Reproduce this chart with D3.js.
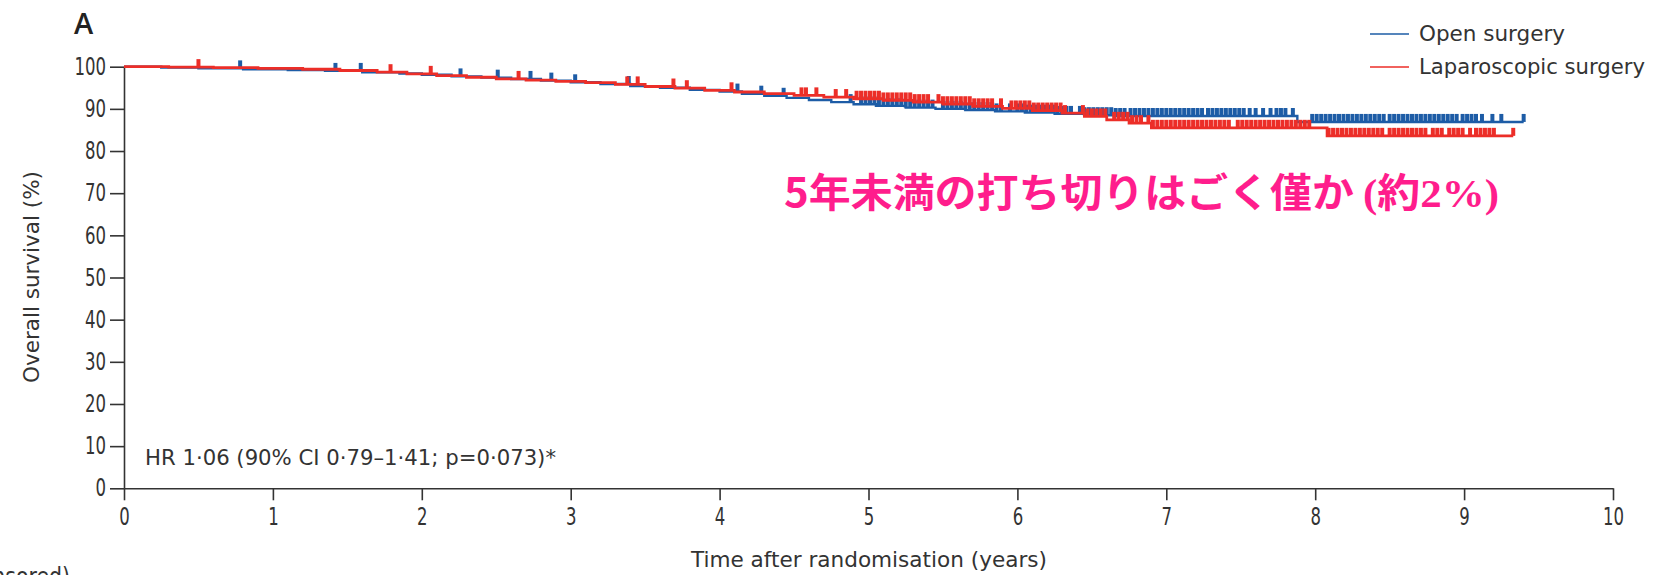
<!DOCTYPE html>
<html>
<head>
<meta charset="utf-8">
<script src="https://cdn.jsdelivr.net/npm/d3@7"></script>
<style>
  html, body { margin: 0; padding: 0; background: #fff; }
  svg { display: block; }
  .ax text { font-family: "Liberation Sans Narrow", "DejaVu Sans Condensed", "DejaVu Sans", sans-serif; fill: #333; }
</style>
</head>
<body>
<svg id="chart" width="1661" height="575"></svg>
<script>
// ---------------- DATA ----------------
const xTicks = [0, 1, 2, 3, 4, 5, 6, 7, 8, 9, 10];
const yTicks = [0, 10, 20, 30, 40, 50, 60, 70, 80, 90, 100];

const seriesNames = ["Open surgery", "Laparoscopic surgery"];

// Open surgery: step times (years) and overall survival (%)
const openTimes = [0, 0.25, 0.5, 0.8, 1.1, 1.35, 1.6, 1.85, 2.0, 2.2, 2.4, 2.6, 2.8, 3.0, 3.2, 3.4, 3.6, 3.8, 4.0, 4.15, 4.3, 4.45, 4.6, 4.75, 4.9, 5.05, 5.25, 5.45, 5.65, 5.85, 6.05, 6.25, 6.45, 6.65, 7.88];
const openSurv  = [100, 99.8, 99.6, 99.4, 99.2, 99.0, 98.7, 98.4, 98.1, 97.7, 97.4, 97.1, 96.7, 96.3, 95.9, 95.4, 95.0, 94.5, 94.1, 93.6, 93.1, 92.6, 92.1, 91.6, 91.1, 90.7, 90.3, 90.0, 89.7, 89.4, 89.1, 88.8, 88.5, 88.3, 86.9];
const openEnd = 9.40;
const openCensor = [0.78, 1.42, 1.59, 2.26, 2.51, 2.73, 2.87, 3.03, 3.39, 4.12, 4.28, 4.43, 4.88,
  4.95, 4.98, 5.01, 5.04, 5.07, 5.10, 5.13, 5.16, 5.19, 5.22, 5.25, 5.28, 5.31, 5.34, 5.37, 5.40, 5.43,
  5.50, 5.53, 5.56, 5.59, 5.62, 5.65, 5.68, 5.71, 5.74, 5.77, 5.80, 5.83, 5.86, 5.89, 5.95,
  6.00, 6.03, 6.06, 6.09, 6.12, 6.15, 6.18, 6.21, 6.24, 6.27, 6.30, 6.33, 6.36,
  6.42, 6.45, 6.48, 6.51, 6.54, 6.57, 6.60, 6.63, 6.66, 6.69, 6.72,
  6.76, 6.79, 6.82, 6.85, 6.88, 6.91, 6.94, 6.97, 7.00, 7.03, 7.06, 7.09, 7.12, 7.15, 7.18, 7.21, 7.24,
  7.28, 7.31, 7.34, 7.37, 7.40, 7.43, 7.46, 7.49, 7.52, 7.56, 7.60, 7.65, 7.70, 7.74, 7.77, 7.80, 7.85,
  7.98, 8.01, 8.04, 8.07, 8.10, 8.13, 8.16, 8.19, 8.22, 8.25, 8.28, 8.31, 8.34, 8.37, 8.40, 8.43, 8.46,
  8.50, 8.53, 8.56, 8.59, 8.62, 8.65, 8.68, 8.71, 8.74, 8.77, 8.80, 8.83, 8.86, 8.89, 8.92, 8.95,
  8.99, 9.02, 9.05, 9.08, 9.12, 9.19, 9.25, 9.40];

// Laparoscopic surgery
const lapTimes = [0, 0.3, 0.6, 0.9, 1.2, 1.45, 1.7, 1.9, 2.1, 2.3, 2.5, 2.7, 2.9, 3.1, 3.3, 3.5, 3.7, 3.9, 4.1, 4.3, 4.5, 4.7, 4.9, 5.1, 5.3, 5.5, 5.7, 5.9, 6.1, 6.3, 6.45, 6.6, 6.75, 6.9, 8.08];
const lapSurv  = [100, 99.9, 99.8, 99.6, 99.4, 99.1, 98.7, 98.3, 97.9, 97.5, 97.1, 96.8, 96.5, 96.2, 95.8, 95.3, 94.9, 94.4, 94.0, 93.6, 93.2, 92.8, 92.4, 92.0, 91.6, 91.1, 90.6, 90.1, 89.6, 89.0, 88.2, 87.4, 86.6, 85.5, 83.6];
const lapEnd = 9.33;
const lapCensor = [0.50, 1.79, 2.06, 2.65, 3.38, 3.45, 3.69, 3.78, 4.08, 4.55, 4.58, 4.65, 4.78, 4.85,
  4.92, 4.95, 4.98, 5.01, 5.04, 5.07, 5.10, 5.13, 5.16, 5.19, 5.22, 5.25, 5.28, 5.31, 5.34, 5.37, 5.40,
  5.47, 5.50, 5.53, 5.56, 5.59, 5.62, 5.65, 5.68, 5.71, 5.74, 5.77, 5.80, 5.83, 5.89,
  5.96, 5.99, 6.02, 6.05, 6.08, 6.11, 6.14, 6.17, 6.20, 6.23, 6.26, 6.29, 6.32,
  6.44, 6.47, 6.50, 6.53, 6.56, 6.59, 6.65, 6.68, 6.71, 6.74, 6.77, 6.80, 6.83,
  6.88, 6.91, 6.94, 6.97, 7.00, 7.03, 7.06, 7.09, 7.12, 7.15, 7.18, 7.21, 7.24, 7.27, 7.30, 7.33, 7.36, 7.39, 7.42,
  7.48, 7.51, 7.54, 7.57, 7.60, 7.63, 7.66, 7.69, 7.72, 7.75, 7.78, 7.81, 7.84, 7.87, 7.90, 7.93, 7.96,
  8.09, 8.12, 8.15, 8.18, 8.21, 8.24, 8.27, 8.30, 8.33, 8.36, 8.39, 8.42, 8.45,
  8.50, 8.53, 8.56, 8.59, 8.62, 8.65, 8.68, 8.71, 8.74, 8.79, 8.82, 8.85,
  8.90, 8.93, 8.96, 8.99, 9.04, 9.08, 9.11, 9.14, 9.17, 9.20, 9.33];

const panelLabel = "A";
const xTitle = "Time after randomisation (years)";
const yTitle = "Overall survival (%)";
const hrText = "HR 1·06 (90% CI 0·79–1·41; p=0·073)*";
const noteText = "5年未満の打ち切りはごく僅か";
const notePct = "(約2%)";
const bottomCut = "(number censored)";

// ---------------- LAYOUT ----------------
const svg = d3.select("#chart");
const C = { blue: "#1d5ca6", red: "#ec2e28", axis: "#333", pink: "#ff1d8c" };
const x = d3.scaleLinear().domain([0, 10]).range([124, 1613]);
const y = d3.scaleLinear().domain([0, 100]).range([488.3, 66.7]);
const narrow = "'Liberation Sans Narrow', 'DejaVu Sans Condensed', 'DejaVu Sans', sans-serif";

// Axes
const gx = svg.append("g").attr("class", "ax").attr("transform", `translate(0,${y(0)})`)
  .call(d3.axisBottom(x).tickValues(xTicks).tickFormat(d3.format("d")).tickSize(12).tickSizeOuter(0).tickPadding(8));
const gy = svg.append("g").attr("class", "ax").attr("transform", `translate(${x(0)},0)`)
  .call(d3.axisLeft(y).tickValues(yTicks).tickFormat(d3.format("d")).tickSize(14).tickSizeOuter(0).tickPadding(4));
svg.selectAll(".ax text").attr("font-size", 24)
  .attr("textLength", function() { return this.textContent.length * 10.5; })
  .attr("lengthAdjust", "spacingAndGlyphs");
svg.selectAll(".ax path, .ax line").attr("stroke", C.axis).attr("stroke-width", 1.6);

// KM curves
function survAt(times, surv, t) {
  const i = d3.bisectRight(times, t) - 1;
  return surv[Math.max(0, i)];
}
const line = d3.line().x(d => x(d[0])).y(d => y(d[1])).curve(d3.curveStepAfter);

function drawArm(times, surv, end, censor, color, w) {
  const pts = times.map((t, i) => [t, surv[i]]);
  pts.push([end, surv[surv.length - 1]]);
  svg.append("path").datum(pts).attr("d", line)
    .attr("fill", "none").attr("stroke", color).attr("stroke-width", w);
  svg.append("g").selectAll("line").data(censor).join("line")
    .attr("x1", d => x(d)).attr("x2", d => x(d))
    .attr("y1", d => y(survAt(times, surv, d)))
    .attr("y2", d => y(survAt(times, surv, d)) - 8)
    .attr("stroke", color).attr("stroke-width", 4);
}
drawArm(openTimes, openSurv, openEnd, openCensor, C.blue, 2.4);
drawArm(lapTimes, lapSurv, lapEnd, lapCensor, C.red, 2.8);

// Panel label
svg.append("text").attr("x", 74).attr("y", 34).attr("font-size", 29).attr("font-weight", 600)
  .attr("font-family", "'Open Sans', 'Liberation Sans', sans-serif").attr("fill", "#222").text(panelLabel);

// Legend
const legend = [
  { name: seriesNames[0], color: C.blue, y: 34, w: 146 },
  { name: seriesNames[1], color: C.red, y: 67, w: 226 }
];
legend.forEach(l => {
  svg.append("line").attr("x1", 1370).attr("x2", 1409).attr("y1", l.y).attr("y2", l.y)
    .attr("stroke", l.color).attr("stroke-width", 1.6);
  svg.append("text").attr("x", 1419).attr("y", l.y + 7).attr("font-size", 22)
    .attr("font-family", narrow)
    .attr("fill", "#333").attr("textLength", l.w).attr("lengthAdjust", "spacingAndGlyphs").text(l.name);
});

// Axis titles
svg.append("text").attr("x", 869).attr("y", 567).attr("text-anchor", "middle").attr("font-size", 22)
  .attr("font-family", narrow).attr("fill", "#333")
  .attr("textLength", 356).attr("lengthAdjust", "spacingAndGlyphs").text(xTitle);
svg.append("text").attr("transform", "translate(39,277) rotate(-90)").attr("text-anchor", "middle").attr("font-size", 22)
  .attr("font-family", narrow).attr("fill", "#333")
  .attr("textLength", 212).attr("lengthAdjust", "spacingAndGlyphs").text(yTitle);

// HR text
svg.append("text").attr("x", 145).attr("y", 465).attr("font-size", 21)
  .attr("font-family", narrow).attr("fill", "#333")
  .attr("textLength", 411).attr("lengthAdjust", "spacingAndGlyphs").text(hrText);

// Cut-off bottom text (partly outside the frame, as in the source)
svg.append("text").attr("x", 70).attr("y", 585).attr("text-anchor", "end").attr("font-size", 24)
  .attr("font-family", narrow).attr("fill", "#333")
  .attr("textLength", 196).attr("lengthAdjust", "spacingAndGlyphs")
  .text(bottomCut);

// Annotation (Japanese)
const note = svg.append("text").attr("x", 784).attr("y", 207).attr("font-size", 40).attr("font-weight", "bold")
  .attr("fill", C.pink).attr("font-family", "'Noto Sans CJK JP', sans-serif");
note.append("tspan").attr("textLength", 570).attr("lengthAdjust", "spacingAndGlyphs").text(noteText);
note.append("tspan").attr("x", 1363).attr("font-family", "'Liberation Serif', 'Noto Sans CJK JP', serif")
  .attr("textLength", 136).attr("lengthAdjust", "spacingAndGlyphs").text(notePct);
</script>
</body>
</html>
